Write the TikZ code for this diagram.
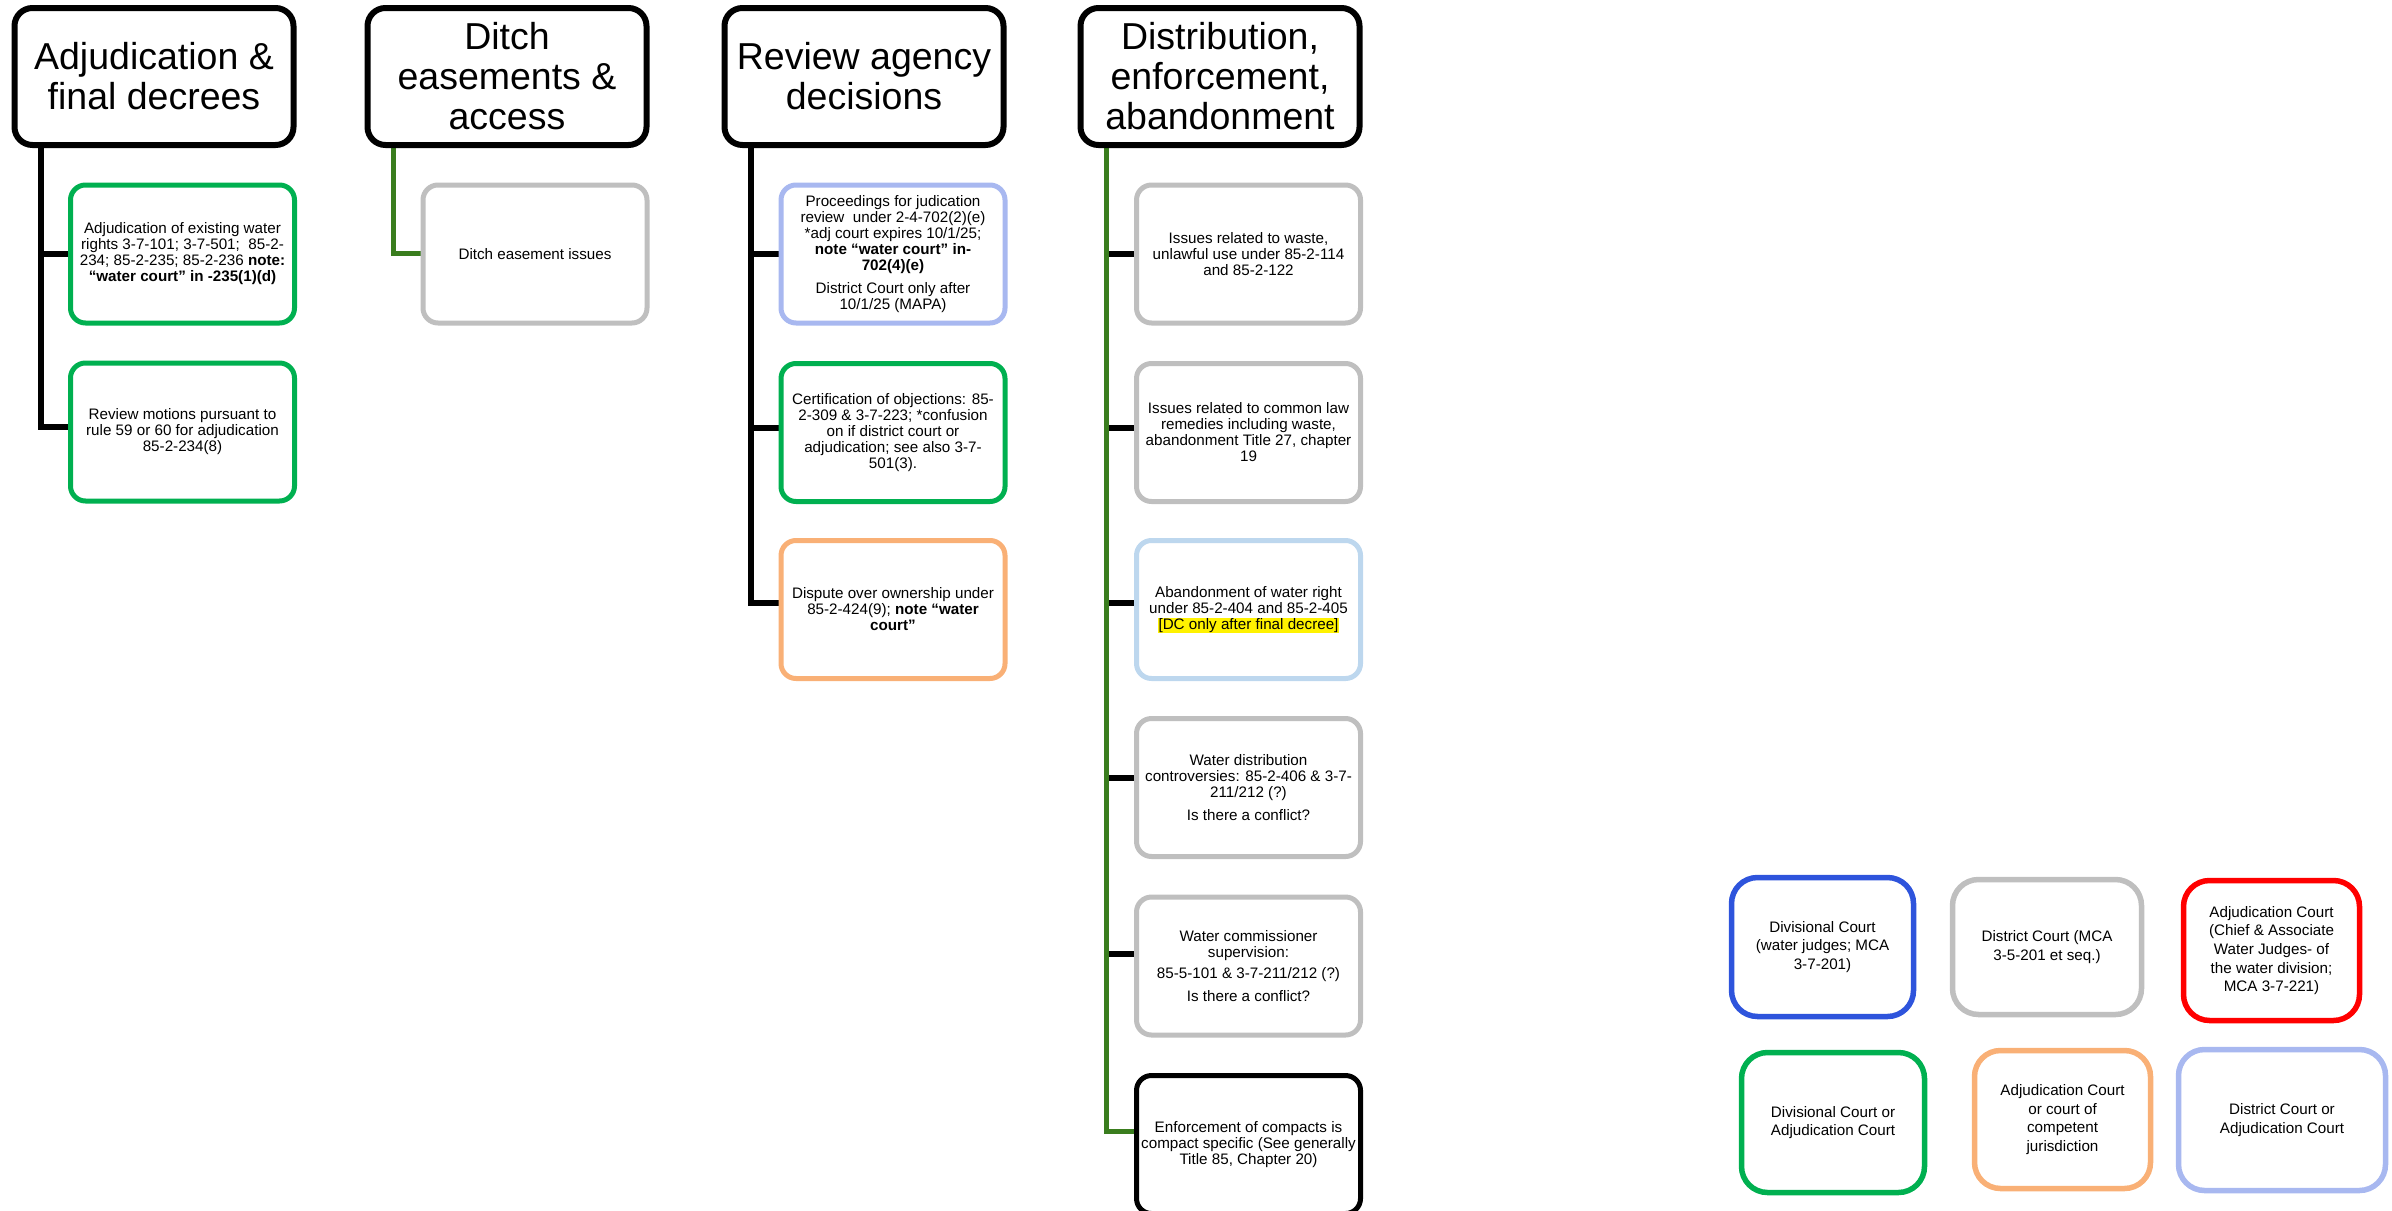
\documentclass[tikz,border=0pt]{standalone}
\usepackage{fontspec}
\setmainfont{Liberation Sans}
\definecolor{cgreen}{HTML}{00B050}
\definecolor{cgray}{HTML}{BFBFBF}
\definecolor{cperi}{HTML}{A8B8F0}
\definecolor{cpale}{HTML}{BDD7EE}
\definecolor{corange}{HTML}{F9B076}
\definecolor{cblue}{HTML}{2E54DC}
\definecolor{cred}{HTML}{FF0000}
\definecolor{dkgreen}{HTML}{3A7D1E}
\pgfdeclarelayer{bg}
\pgfsetlayers{bg,main}
\begin{document}
\begin{tikzpicture}[x=1pt,y=-1pt,
  hdr/.style={draw=black, line width=6pt, rounded corners=18pt, minimum width=279pt, minimum height=137pt, align=center, inner sep=0pt, fill=white, font=\fontsize{37.5}{40}\selectfont},
  kid/.style={draw=#1, line width=5pt, rounded corners=15pt, minimum width=224pt, minimum height=138pt, align=center, inner sep=0pt, fill=white, font=\fontsize{15.2}{16}\selectfont},
  leg/.style={draw=#1, line width=5.5pt, rounded corners=26pt, align=center, inner sep=0pt, fill=white, font=\fontsize{15.2}{18.7}\selectfont},
  blk/.style={line width=5.5pt, draw=black},
  grn/.style={line width=5pt, draw=dkgreen},
]
\useasboundingbox (0,0) rectangle (2392,1210);

% headers
\node[hdr] (h1) at (154,76.5) {Adjudication \&\\final decrees};
\node[hdr] (h2) at (507,76.5) {Ditch\\easements \&\\access};
\node[hdr] (h3) at (864,76.5) {Review agency\\decisions};
\node[hdr] (h4) at (1220,76.5) {Distribution,\\enforcement,\\abandonment};

% column 1
\node[kid=cgreen] (c1a) at (182.5,254) {Adjudication of existing water\\rights 3-7-101; 3-7-501;\ \ 85-2-\\234; 85-2-235; 85-2-236 \textbf{note:}\\\textbf{“water court” in -235(1)(d)}};
\node[kid=cgreen] (c1b) at (182.5,432) {Review motions pursuant to\\rule 59 or 60 for adjudication\\85-2-234(8)};

% column 2
\node[kid=cgray] (c2a) at (535,254) {Ditch easement issues};

% column 3
\node[kid=cperi] (c3a) at (893,254) {Proceedings for judication\\review\ \ under 2-4-702(2)(e)\\*adj court expires 10/1/25;\\\textbf{note “water court” in-}\\\textbf{702(4)(e)}\\[7pt]District Court only after\\10/1/25 (MAPA)};
\node[kid=cgreen] (c3b) at (893,432.5) {Certification of objections: 85-\\2-309 \& 3-7-223; *confusion\\on if district court or\\adjudication; see also 3-7-\\501(3).};
\node[kid=corange] (c3c) at (893,609.5) {Dispute over ownership under\\85-2-424(9); \textbf{note “water}\\\textbf{court”}};

% column 4
\node[kid=cgray] (c4a) at (1248.5,254) {Issues related to waste,\\unlawful use under 85-2-114\\and 85-2-122};
\node[kid=cgray] (c4b) at (1248.5,432.5) {Issues related to common law\\remedies including waste,\\abandonment Title 27, chapter\\19};
\node[kid=cpale] (c4c) at (1248.5,609.5) {Abandonment of water right\\under 85-2-404 and 85-2-405\\{\setlength{\fboxsep}{0.6pt}\colorbox{yellow}{[DC only after final decree]}}};
\node[kid=cgray] (c4d) at (1248.5,787.5) {Water distribution\\controversies: 85-2-406 \& 3-7-\\211/212 (?)\\[7pt]Is there a conflict?};
\node[kid=cgray] (c4e) at (1248.5,966) {Water commissioner\\supervision:\\[5pt]85-5-101 \& 3-7-211/212 (?)\\[7pt]Is there a conflict?};
\node[kid=black] (c4f) at (1248.5,1144.5) {Enforcement of compacts is\\compact specific (See generally\\Title 85, Chapter 20)};

% legend
\node[leg=cblue, minimum width=182pt, minimum height=139pt] (l1) at (1822.5,947) {Divisional Court\\(water judges; MCA\\3-7-201)};
\node[leg=cgray, minimum width=189pt, minimum height=135pt] (l2) at (2047,947) {District Court (MCA\\3-5-201 et seq.)};
\node[leg=cred, minimum width=176pt, minimum height=140pt] (l3) at (2271.5,950.5) {Adjudication Court\\(Chief \& Associate\\Water Judges- of\\the water division;\\MCA 3-7-221)};
\node[leg=cgreen, minimum width=183pt, minimum height=140pt] (l4) at (1833,1122.5) {Divisional Court or\\Adjudication Court};
\node[leg=corange, minimum width=176pt, minimum height=138pt] (l5) at (2062.5,1119.5) {Adjudication Court\\or court of\\competent\\jurisdiction};
\node[leg=cperi, minimum width=207pt, minimum height=141pt] (l6) at (2282,1120) {District Court or\\Adjudication Court};

% connector rails
\coordinate (r1) at (41,148);
\coordinate (r2) at (393,148);
\coordinate (r3) at (751,148);
\coordinate (r4) at (1106,148);

\begin{pgfonlayer}{bg}
% column 1
\draw[blk] (r1 |- h1.south) |- ([yshift=5pt]c1b.west);
\draw[blk] (r1 |- c1a.west) -- (c1a.west);
% column 2
\draw[grn] (r2 |- h2.south) |- ([yshift=1pt]c2a.west);
% column 3
\draw[blk] (r3 |- h3.south) |- ([yshift=6.5pt]c3c.west);
\draw[blk] (r3 |- c3a.west) -- (c3a.west);
\draw[blk] ([yshift=4.5pt]r3 |- c3b.west) -- ([yshift=4.5pt]c3b.west);
% column 4
\draw[blk] (r4 |- c4a.west) -- (c4a.west);
\draw[blk] ([yshift=4.5pt]r4 |- c4b.west) -- ([yshift=4.5pt]c4b.west);
\draw[blk] ([yshift=6.5pt]r4 |- c4c.west) -- ([yshift=6.5pt]c4c.west);
\draw[blk] ([yshift=9.5pt]r4 |- c4d.west) -- ([yshift=9.5pt]c4d.west);
\draw[blk] ([yshift=12pt]r4 |- c4e.west) -- ([yshift=12pt]c4e.west);
\draw[grn] (r4 |- h4.south) |- ([yshift=13.5pt]c4f.west);
\end{pgfonlayer}
\end{tikzpicture}
\end{document}
